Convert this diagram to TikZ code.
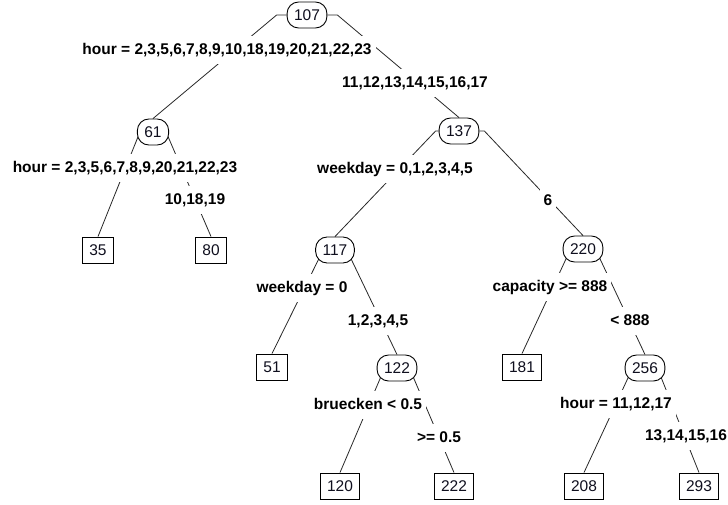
\documentclass[tikz,border=0pt]{standalone}
\usepackage{fontspec}
\setmainfont{Liberation Sans}
\usepackage{tikz}
\usetikzlibrary{backgrounds}
\usepackage{xcolor}
\definecolor{rpline}{RGB}{40,40,40}
\definecolor{rptext}{RGB}{15,15,30}
\tikzstyle{split} = [rectangle, rounded corners=11.5pt, draw=black, fill=white, line width=0.9pt, minimum height=26pt, inner xsep=7pt, text=rptext, font=\fontsize{15.5}{18}\selectfont]
\tikzstyle{leaf} = [rectangle, draw=black, fill=white, line width=0.9pt, minimum height=26pt, inner xsep=6.5pt, text=rptext, font=\fontsize{15.5}{18}\selectfont]
\tikzstyle{cond} = [rectangle, fill=white, inner xsep=4pt, inner ysep=0pt, text height=11pt, text depth=3pt, minimum height=28pt, font=\bfseries\fontsize{15.5}{18}\selectfont]
\tikzstyle{branch} = [line width=0.8pt, color=rpline]

\begin{document}
\begin{tikzpicture}[x=1pt, y=-1pt]
\useasboundingbox (0,0) rectangle (728,504);

% Split nodes
\node (n107) [split] at (307,15) {107};
\node (n61) [split] at (153,132) {61};
\node (n137) [split] at (459,131) {137};
\node (n117) [split] at (335,250) {117};
\node (n220) [split] at (583,249) {220};
\node (n122) [split] at (397,368) {122};
\node (n256) [split] at (645,368) {256};

% Leaves
\node (n35) [leaf] at (98,250) {35};
\node (n80) [leaf] at (211,250) {80};
\node (n51) [leaf] at (272,367) {51};
\node (n181) [leaf] at (522,367) {181};
\node (n120) [leaf] at (340,486) {120};
\node (n222) [leaf] at (454,486) {222};
\node (n208) [leaf] at (584,486) {208};
\node (n293) [leaf] at (699,486) {293};

% Branches, behind the boxes
\begin{pgfonlayer}{background}
\draw[branch] (n107.west) -- ++(-10,0) -- (n61.north);
\draw[branch] (n107.east) -- ++(10,0) -- (n137.north);
\draw[branch] ([xshift=3pt]n61.west) -- (n35.north);
\draw[branch] ([xshift=-3pt]n61.east) -- (n80.north);
\draw[branch] (n137.west) -- ++(-3,0) -- (n117.north);
\draw[branch] (n137.east) -- ++(5,0) -- (n220.north);
\draw[branch] ([xshift=8pt]n117.west) -- (n51.north);
\draw[branch] ([xshift=-8pt]n117.east) -- (n122.north);
\draw[branch] ([xshift=8pt]n220.west) -- (n181.north);
\draw[branch] ([xshift=-8pt]n220.east) -- (n256.north);
\draw[branch] ([xshift=8pt]n122.west) -- (n120.north);
\draw[branch] ([xshift=-8pt]n122.east) -- (n222.north);
\draw[branch] ([xshift=8pt]n256.west) -- (n208.north);
\draw[branch] ([xshift=-8pt]n256.east) -- (n293.north);
\end{pgfonlayer}

% Split conditions on the branches
\node (c107l) [cond] at (227,50) {hour = 2,3,5,6,7,8,9,10,18,19,20,21,22,23};
\node (c107r) [cond] at (415,83) {11,12,13,14,15,16,17};
\node (c61l) [cond] at (125,168) {hour = 2,3,5,6,7,8,9,20,21,22,23};
\node (c61r) [cond] at (195,200) {10,18,19};
\node (c137l) [cond] at (395,169) {weekday = 0,1,2,3,4,5};
\node (c137r) [cond] at (548,201) {6};
\node (c117l) [cond] at (302,288) {weekday = 0};
\node (c117r) [cond] at (378,321) {1,2,3,4,5};
\node (c220l) [cond] at (550,287) {capacity >= 888};
\node (c220r) [cond] at (630,321) {< 888};
\node (c122l) [cond] at (368,405) {bruecken < 0.5};
\node (c122r) [cond] at (439,438) {>= 0.5};
\node (c256l) [cond] at (616,404) {hour = 11,12,17};
\node (c256r) [cond] at (686,436) {13,14,15,16};
\end{tikzpicture}
\end{document}
